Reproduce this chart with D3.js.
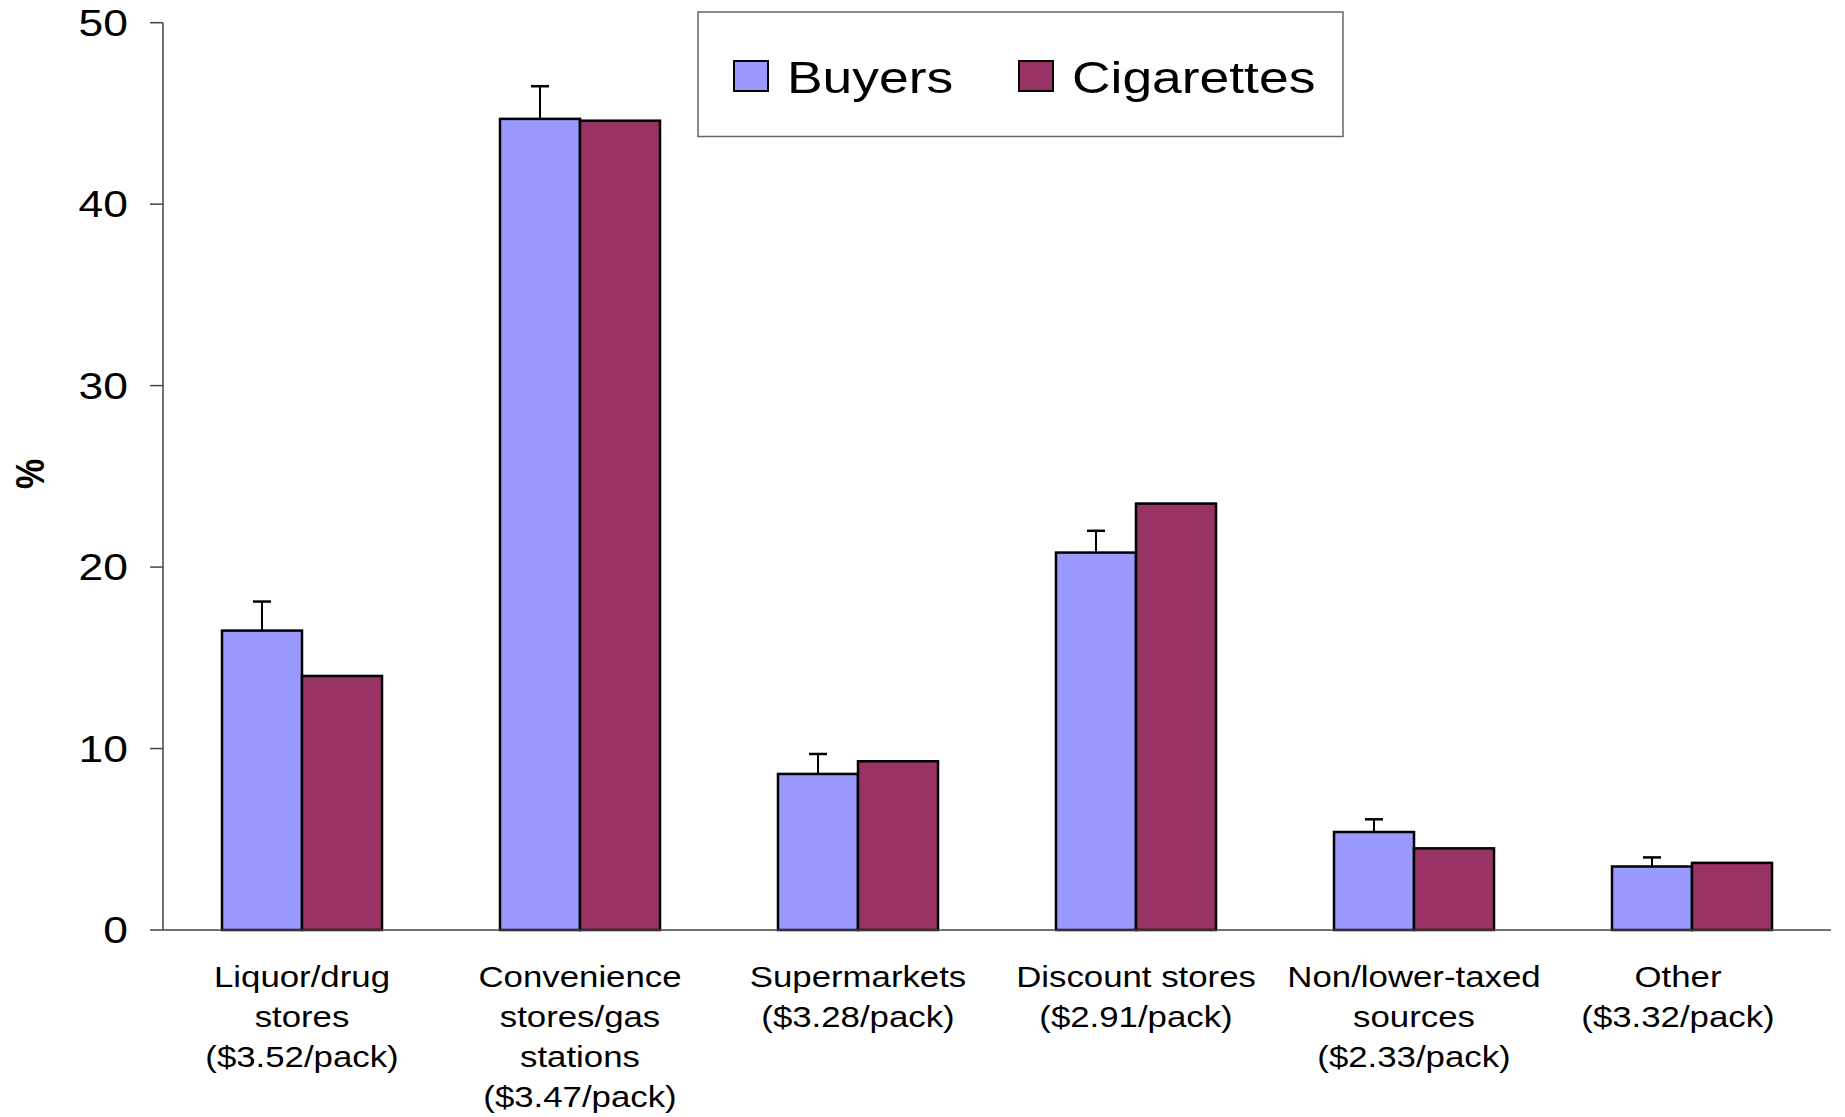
<!DOCTYPE html>
<html>
<head>
<meta charset="utf-8">
<script src="https://cdn.jsdelivr.net/npm/d3@7"></script>
<style>
  html, body { margin: 0; padding: 0; background: #fff; }
  svg { display: block; font-family: "Liberation Sans", Arial, sans-serif; }
</style>
</head>
<body>
<svg id="chart" width="1845" height="1117"></svg>
<script>
const categories = [
  ["Liquor/drug", "stores", "($3.52/pack)"],
  ["Convenience", "stores/gas", "stations", "($3.47/pack)"],
  ["Supermarkets", "($3.28/pack)"],
  ["Discount stores", "($2.91/pack)"],
  ["Non/lower-taxed", "sources", "($2.33/pack)"],
  ["Other", "($3.32/pack)"]
];
const seriesNames = ["Buyers", "Cigarettes"];
const buyers = [16.5, 44.7, 8.6, 20.8, 5.4, 3.5];
const buyersUpper = [18.1, 46.5, 9.7, 22.0, 6.1, 4.0];
const cigarettes = [14.0, 44.6, 9.3, 23.5, 4.5, 3.7];
const yTicks = [0, 10, 20, 30, 40, 50];
const colors = ["#9999FF", "#993366"];

const SX = 1.2; // horizontal stretch of the original raster text

const svg = d3.select("#chart");
const x0 = 163, x1 = 1831, yBottom = 930, yTop = 22.7;

const x = d3.scaleBand().domain(d3.range(categories.length)).range([x0, x1]).paddingInner(0).paddingOuter(0);
const y = d3.scaleLinear().domain([0, 50]).range([yBottom, yTop]);
const barW = 80;

// y axis
const gy = svg.append("g");
gy.append("line").attr("x1", x0).attr("x2", x0).attr("y1", y(50)).attr("y2", y(0))
  .attr("stroke", "#444").attr("stroke-width", 1.5);
gy.selectAll("line.tick").data(yTicks).enter().append("line")
  .attr("x1", x0 - 13).attr("x2", x0).attr("y1", d => y(d)).attr("y2", d => y(d))
  .attr("stroke", "#444").attr("stroke-width", 1.5);
gy.selectAll("text").data(yTicks).enter().append("text")
  .attr("transform", d => `translate(128,${y(d)}) scale(${SX},1)`)
  .attr("text-anchor", "end").attr("dy", "0.36em")
  .attr("font-size", 37).attr("fill", "#000").text(d => d);

// y label
svg.append("text")
  .attr("transform", `translate(44,474) rotate(-90) scale(1,${SX})`)
  .attr("text-anchor", "middle").attr("font-size", 34).attr("font-weight", "bold")
  .text("%");

// bars
const groups = svg.append("g").selectAll("g").data(categories).enter().append("g");
groups.append("rect")
  .attr("x", (d, i) => x(i) + x.bandwidth() / 2 - barW)
  .attr("y", (d, i) => y(buyers[i]))
  .attr("width", barW)
  .attr("height", (d, i) => y(0) - y(buyers[i]))
  .attr("fill", colors[0]).attr("stroke", "#000").attr("stroke-width", 2.5);
groups.append("rect")
  .attr("x", (d, i) => x(i) + x.bandwidth() / 2)
  .attr("y", (d, i) => y(cigarettes[i]))
  .attr("width", barW)
  .attr("height", (d, i) => y(0) - y(cigarettes[i]))
  .attr("fill", colors[1]).attr("stroke", "#000").attr("stroke-width", 2.5);
// error bars
groups.append("line")
  .attr("x1", (d, i) => x(i) + x.bandwidth() / 2 - barW / 2)
  .attr("x2", (d, i) => x(i) + x.bandwidth() / 2 - barW / 2)
  .attr("y1", (d, i) => y(buyers[i]))
  .attr("y2", (d, i) => y(buyersUpper[i]))
  .attr("stroke", "#000").attr("stroke-width", 2);
groups.append("line")
  .attr("x1", (d, i) => x(i) + x.bandwidth() / 2 - barW / 2 - 9)
  .attr("x2", (d, i) => x(i) + x.bandwidth() / 2 - barW / 2 + 9)
  .attr("y1", (d, i) => y(buyersUpper[i]))
  .attr("y2", (d, i) => y(buyersUpper[i]))
  .attr("stroke", "#000").attr("stroke-width", 2.5);

// x axis line
svg.append("line").attr("x1", x0).attr("x2", x1).attr("y1", y(0)).attr("y2", y(0))
  .attr("stroke", "#444").attr("stroke-width", 1.5);

// category labels (last one sits slightly left in the original, kept inside the frame)
const lab = svg.append("g").selectAll("text").data(categories).enter().append("text")
  .attr("transform", (d, i) => {
    const cx = x(i) + x.bandwidth() / 2 + (i === categories.length - 1 ? -14 : 0);
    return `translate(${cx},987) scale(${SX},1)`;
  })
  .attr("text-anchor", "middle").attr("font-size", 29).attr("fill", "#000");
lab.selectAll("tspan").data(d => d).enter().append("tspan")
  .attr("x", 0).attr("y", (d, j) => j * 40).text(d => d);

// legend
const lg = svg.append("g");
lg.append("rect").attr("x", 698).attr("y", 12).attr("width", 645).attr("height", 124.5)
  .attr("fill", "#fff").attr("stroke", "#666").attr("stroke-width", 1.5);
const legendX = [734, 1019];
seriesNames.forEach((name, i) => {
  lg.append("rect").attr("x", legendX[i]).attr("y", 61).attr("width", 34).attr("height", 30)
    .attr("fill", colors[i]).attr("stroke", "#000").attr("stroke-width", 2);
  lg.append("text")
    .attr("transform", `translate(${legendX[i] + 53},93) scale(${SX},1)`)
    .attr("font-size", 44.5).attr("fill", "#000").text(name);
});
</script>
</body>
</html>
